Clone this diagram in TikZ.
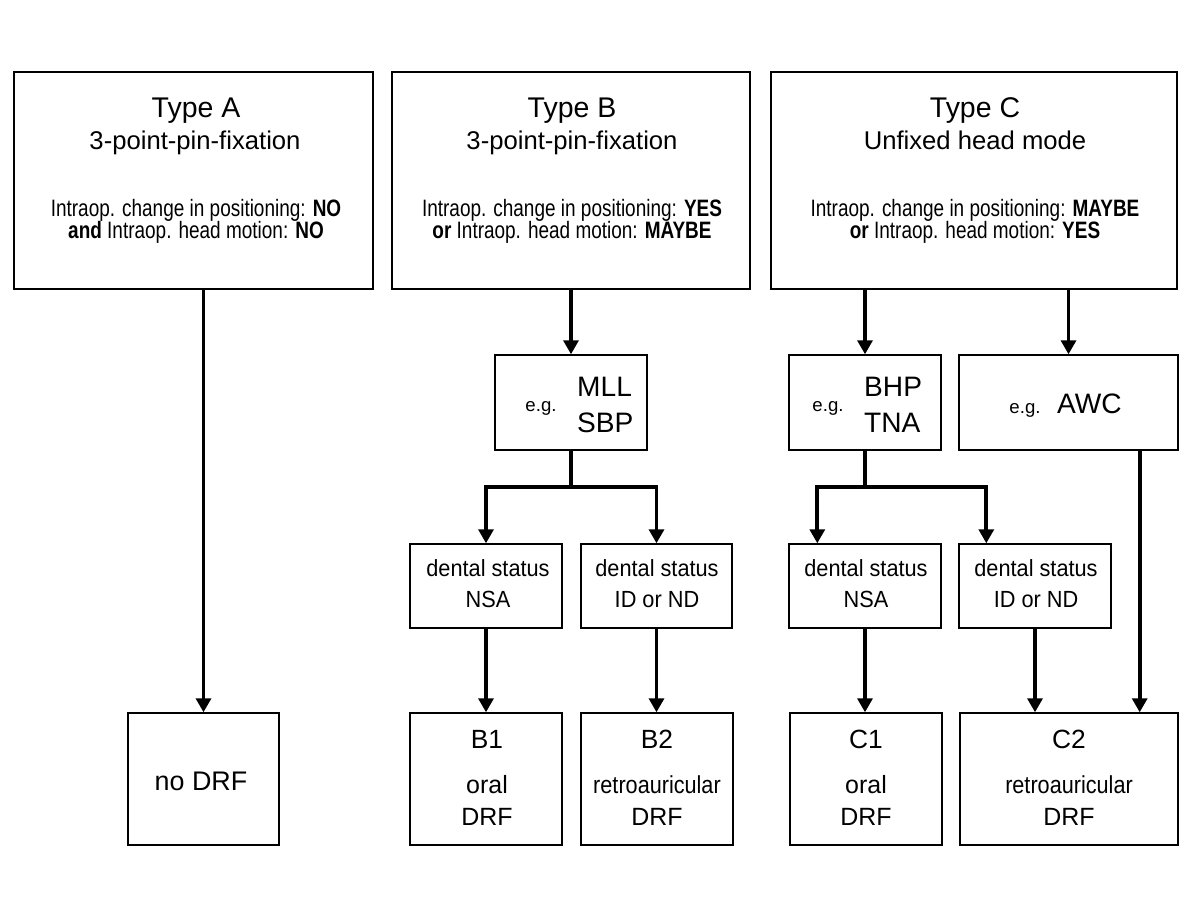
\documentclass[tikz,border=0pt]{standalone}
\usepackage{fontspec}
\setmainfont{Liberation Sans}
\newfontfamily\narrowfont[FakeStretch=0.8]{Liberation Sans}
\newfontfamily\semifont[FakeStretch=0.88]{Liberation Sans}
\newfontfamily\dentfont[FakeStretch=0.93]{Liberation Sans}
\usepackage{tikz}
\usetikzlibrary{arrows.meta}

\begin{document}
\begin{tikzpicture}
[
x=0.02cm, y=-0.02cm,
box-a/.style={draw, line width=0.8pt, inner sep=0pt},
text-title/.style={anchor=base, font=\fontsize{16.2}{16.2}\selectfont},
text-sub/.style={anchor=base, font=\fontsize{14.6}{14.6}\selectfont},
text-cond/.style={anchor=base, font=\narrowfont\fontsize{13.5}{13.5}\selectfont},
text-dent/.style={anchor=base, font=\dentfont\fontsize{13.3}{13.3}\selectfont},
text-eg/.style={anchor=base, font=\fontsize{10.6}{10.6}\selectfont},
text-abbr/.style={anchor=base west, font=\fontsize{16}{16}\selectfont},
text-res/.style={anchor=base, font=\fontsize{14.2}{14.2}\selectfont},
text-retro/.style={anchor=base, font=\semifont\fontsize{14}{14}\selectfont},
text-code/.style={anchor=base, font=\fontsize{15}{15}\selectfont},
flow-a/.style={line width=2.2pt, -{Triangle[width=8.5pt, length=8pt]}}
]
\useasboundingbox (0,0) rectangle (1200,900);

% top row
\node (type-a) [box-a, minimum width=7.18cm, minimum height=4.34cm] at (193.5,180.5) {};
\node (type-b) [box-a, minimum width=7.16cm, minimum height=4.34cm] at (571,180.5)   {};
\node (type-c) [box-a, minimum width=8.12cm, minimum height=4.34cm] at (974,180.5)   {};

\node (type-a-title) [text-title] at (196,117) {Type A};
\node (type-a-sub)   [text-sub]   at (195,149) {3-point-pin-fixation};
\node (type-a-l1)    [text-cond]  at (196,216) {Intraop. change in positioning: \textbf{NO}};
\node (type-a-l2)    [text-cond]  at (196,238) {\textbf{and} Intraop. head motion: \textbf{NO}};

\node (type-b-title) [text-title] at (572,117) {Type B};
\node (type-b-sub)   [text-sub]   at (572,149) {3-point-pin-fixation};
\node (type-b-l1)    [text-cond]  at (572,216) {Intraop. change in positioning: \textbf{YES}};
\node (type-b-l2)    [text-cond]  at (572,238) {\textbf{or} Intraop. head motion: \textbf{MAYBE}};

\node (type-c-title) [text-title] at (975,117) {Type C};
\node (type-c-sub)   [text-sub]   at (975,149) {Unfixed head mode};
\node (type-c-l1)    [text-cond]  at (975,216) {Intraop. change in positioning: \textbf{MAYBE}};
\node (type-c-l2)    [text-cond]  at (975,238) {\textbf{or} Intraop. head motion: \textbf{YES}};

% examples
\node (mll) [box-a, minimum width=3.04cm, minimum height=1.9cm] at (571,402.5)    {};
\node (bhp) [box-a, minimum width=3.04cm, minimum height=1.9cm] at (865,402.5)    {};
\node (awc) [box-a, minimum width=4.38cm, minimum height=1.9cm] at (1068.5,402.5) {};

\node (mll-eg) [text-eg]   at (541,411)  {e.g.};
\node (mll-1)  [text-abbr] at (571,396)  {MLL};
\node (mll-2)  [text-abbr] at (571,432)  {SBP};
\node (bhp-eg) [text-eg]   at (828,411)  {e.g.};
\node (bhp-1)  [text-abbr] at (858,396)  {BHP};
\node (bhp-2)  [text-abbr] at (858,432)  {TNA};
\node (awc-eg) [text-eg]   at (1025,413) {e.g.};
\node (awc-1)  [text-abbr] at (1051,413) {AWC};

% dental status
\node (dent-b1) [box-a, minimum width=3.04cm, minimum height=1.68cm] at (486,586)   {};
\node (dent-b2) [box-a, minimum width=3.02cm, minimum height=1.68cm] at (656.5,586) {};
\node (dent-c1) [box-a, minimum width=3.04cm, minimum height=1.68cm] at (865,586)   {};
\node (dent-c2) [box-a, minimum width=3.04cm, minimum height=1.68cm] at (1035,586)  {};

\node (dent-b1-1) [text-dent] at (488,576)   {dental status};
\node (dent-b1-2) [text-dent] at (488,607)   {NSA};
\node (dent-b2-1) [text-dent] at (657,576)   {dental status};
\node (dent-b2-2) [text-dent] at (657,607)   {ID or ND};
\node (dent-c1-1) [text-dent] at (866,576)   {dental status};
\node (dent-c1-2) [text-dent] at (866,607)   {NSA};
\node (dent-c2-1) [text-dent] at (1036,576)  {dental status};
\node (dent-c2-2) [text-dent] at (1036,607)  {ID or ND};

% results
\node (no-drf) [box-a, minimum width=3.02cm, minimum height=2.64cm] at (203.5,779) {};
\node (res-b1) [box-a, minimum width=3.04cm, minimum height=2.64cm] at (486,779)   {};
\node (res-b2) [box-a, minimum width=3.04cm, minimum height=2.64cm] at (657,779)   {};
\node (res-c1) [box-a, minimum width=3.04cm, minimum height=2.64cm] at (866,779)   {};
\node (res-c2) [box-a, minimum width=4.36cm, minimum height=2.64cm] at (1069,779)  {};

\node (no-drf-1) [anchor=base, font=\fontsize{15.3}{15.3}\selectfont] at (201,790) {no DRF};
\node (res-b1-1) [text-code]  at (487,748)  {B1};
\node (res-b1-2) [text-res]   at (487,793)  {oral};
\node (res-b1-3) [text-res]   at (487,825)  {DRF};
\node (res-b2-1) [text-code]  at (657,748)  {B2};
\node (res-b2-2) [text-retro] at (657,793)  {retroauricular};
\node (res-b2-3) [text-res]   at (657,825)  {DRF};
\node (res-c1-1) [text-code]  at (866,748)  {C1};
\node (res-c1-2) [text-res]   at (866,793)  {oral};
\node (res-c1-3) [text-res]   at (866,825)  {DRF};
\node (res-c2-1) [text-code]  at (1069,748) {C2};
\node (res-c2-2) [text-retro] at (1069,793) {retroauricular};
\node (res-c2-3) [text-res]   at (1069,825) {DRF};

% connectors
\coordinate (split-b) at (571,487);
\coordinate (split-c) at (865,487);
\coordinate (in-c1)   at ([xshift=0.58cm]dent-c1.north west);
\coordinate (in-c2)   at ([xshift=0.56cm]dent-c2.north west);
\coordinate (awc-out) at ([xshift=-0.78cm]awc.south east);

\draw [flow-a] (type-a.south -| no-drf.north) -- (no-drf.north);
\draw [flow-a] (type-b.south) -- (mll.north);
\draw [flow-a] (type-c.south -| bhp.north) -- (bhp.north);
\draw [flow-a] (type-c.south -| awc.north) -- (awc.north);
\draw [flow-a] (mll.south) -- (split-b) -| (dent-b1.north);
\draw [flow-a] (split-b) -| (dent-b2.north);
\draw [flow-a] (bhp.south) -- (split-c) -| (in-c1);
\draw [flow-a] (split-c) -| (in-c2);
\draw [flow-a] (dent-b1.south) -- (dent-b1.south |- res-b1.north);
\draw [flow-a] (dent-b2.south) -- (dent-b2.south |- res-b2.north);
\draw [flow-a] (dent-c1.south) -- (dent-c1.south |- res-c1.north);
\draw [flow-a] (dent-c2.south) -- (dent-c2.south |- res-c2.north);
\draw [flow-a] (awc-out) -- (awc-out |- res-c2.north);
\end{tikzpicture}
\end{document}
